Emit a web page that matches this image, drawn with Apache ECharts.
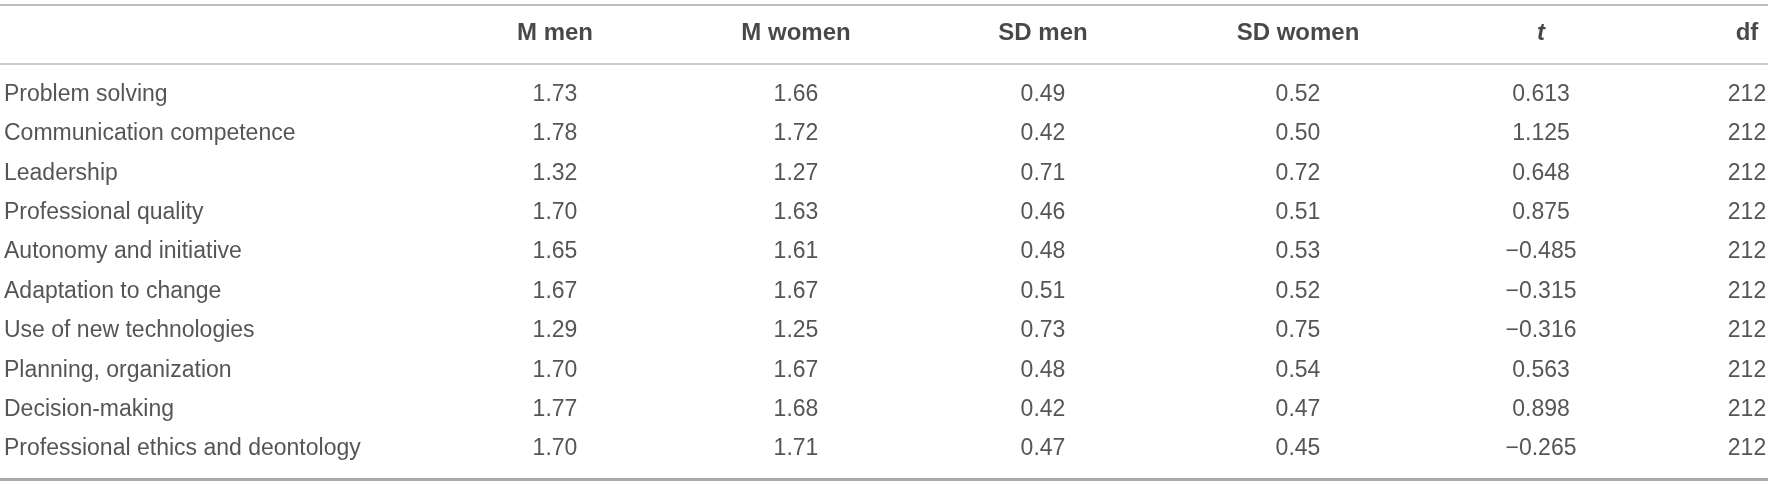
<!DOCTYPE html>
<html>
<head>
<meta charset="utf-8">
<title>Competences by gender</title>
<script src="https://cdn.jsdelivr.net/npm/echarts@6/dist/echarts.min.js"></script>
<style>
  html, body { margin: 0; padding: 0; background: #fff; }
  #table { width: 1772px; height: 485px; }
</style>
</head>
<body>
<div id="table"></div>
<script>
// ---- data ----
var skills = [
  'Problem solving',
  'Communication competence',
  'Leadership',
  'Professional quality',
  'Autonomy and initiative',
  'Adaptation to change',
  'Use of new technologies',
  'Planning, organization',
  'Decision-making',
  'Professional ethics and deontology'
];
var headers = ['M men', 'M women', 'SD men', 'SD women', 't', 'df'];
var mMen    = [1.73, 1.78, 1.32, 1.70, 1.65, 1.67, 1.29, 1.70, 1.77, 1.70];
var mWomen  = [1.66, 1.72, 1.27, 1.63, 1.61, 1.67, 1.25, 1.67, 1.68, 1.71];
var sdMen   = [0.49, 0.42, 0.71, 0.46, 0.48, 0.51, 0.73, 0.48, 0.42, 0.47];
var sdWomen = [0.52, 0.50, 0.72, 0.51, 0.53, 0.52, 0.75, 0.54, 0.47, 0.45];
var tValues = [0.613, 1.125, 0.648, 0.875, -0.485, -0.315, -0.316, 0.563, 0.898, -0.265];
var dfValues = [212, 212, 212, 212, 212, 212, 212, 212, 212, 212];

var columns = [mMen, mWomen, sdMen, sdWomen, tValues, dfValues];
var decimals = [2, 2, 2, 2, 3, 0];

// ---- layout (pixels on the hidden axes) ----
var W = 1772, H = 485;
var colX = [555, 796, 1043, 1298, 1541, 1747];
var labelX = 4;
var headerY = 33.5;
var rowY0 = 94.5, rowStep = 39.4;
var rules = [
  { y: 4.6, color: '#bcbcbc', width: 2 },
  { y: 63.5, color: '#cbcbcb', width: 2 },
  { y: 479, color: '#a9a9a9', width: 3 }
];

function fmt(v, d) {
  var s = Math.abs(v).toFixed(d);
  return v < 0 ? '\u2212' + s : s;
}

var labelCells = skills.map(function (name, i) {
  return { value: [labelX, rowY0 + i * rowStep], name: name };
});

var headerCells = headers.map(function (h, j) {
  var item = { value: [colX[j], headerY], name: h };
  if (h === 't') item.label = { fontStyle: 'italic' };
  return item;
});

var valueCells = [];
columns.forEach(function (col, j) {
  col.forEach(function (v, i) {
    valueCells.push({ value: [colX[j], rowY0 + i * rowStep], name: fmt(v, decimals[j]) });
  });
});

var ruleLines = rules.map(function (r) {
  return [
    { coord: [0, r.y], lineStyle: { color: r.color, width: r.width, type: 'solid' } },
    { coord: [1768, r.y] }
  ];
});

var textFont = '"Liberation Sans", Arial, Helvetica, sans-serif';
var invisible = { color: 'rgba(0,0,0,0)' };

var chart = echarts.init(document.getElementById('table'));
chart.setOption({
  animation: false,
  grid: { left: 0, right: 0, top: 0, bottom: 0 },
  xAxis: { type: 'value', min: 0, max: W, show: false },
  yAxis: { type: 'value', min: 0, max: H, inverse: true, show: false },
  series: [
    {
      name: 'rows',
      type: 'scatter',
      symbolSize: 1,
      itemStyle: invisible,
      silent: true,
      clip: false,
      data: labelCells,
      label: {
        show: true,
        position: 'inside',
        align: 'left',
        verticalAlign: 'middle',
        formatter: '{b}',
        fontFamily: textFont,
        fontSize: 23,
        color: '#2b2b2b'
      },
      markLine: {
        silent: true,
        symbol: 'none',
        label: { show: false },
        data: ruleLines
      }
    },
    {
      name: 'header',
      type: 'scatter',
      symbolSize: 1,
      itemStyle: invisible,
      silent: true,
      clip: false,
      data: headerCells,
      label: {
        show: true,
        position: 'inside',
        align: 'center',
        verticalAlign: 'middle',
        formatter: '{b}',
        fontFamily: textFont,
        fontWeight: 'bold',
        fontSize: 24,
        color: '#1a1a1a'
      }
    },
    {
      name: 'values',
      type: 'scatter',
      symbolSize: 1,
      itemStyle: invisible,
      silent: true,
      clip: false,
      data: valueCells,
      label: {
        show: true,
        position: 'inside',
        align: 'center',
        verticalAlign: 'middle',
        formatter: '{b}',
        fontFamily: textFont,
        fontSize: 23,
        color: '#2b2b2b'
      }
    }
  ]
});
</script>
</body>
</html>
